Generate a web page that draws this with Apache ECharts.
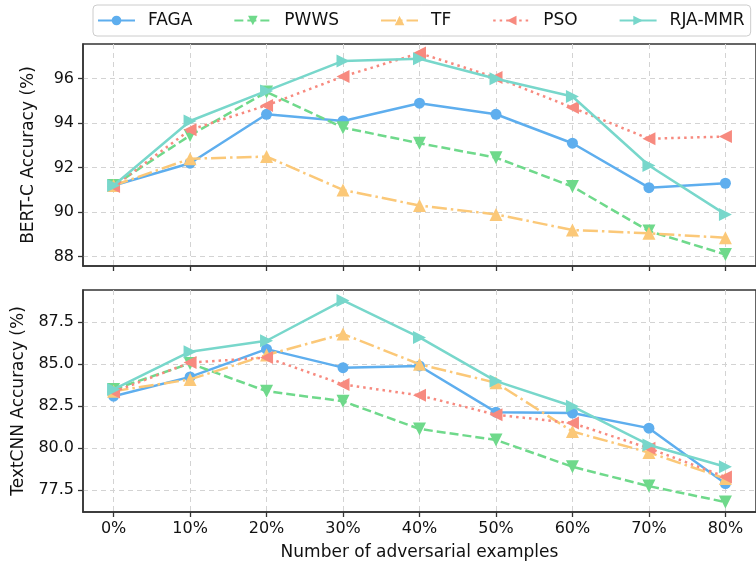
<!DOCTYPE html>
<html>
<head>
<meta charset="utf-8">
<script src="https://cdn.jsdelivr.net/npm/echarts@6/dist/echarts.min.js"></script>
<style>html,body{margin:0;padding:0;background:#fff}#c{width:756px;height:568px}</style>
</head>
<body>
<div id="c"></div>
<script>
const categories = ['0%','10%','20%','30%','40%','50%','60%','70%','80%'];
const seriesNames = ['FAGA','PWWS','TF','PSO','RJA-MMR'];

const bertFAGA = [91.2, 92.2, 94.4, 94.1, 94.9, 94.4, 93.1, 91.1, 91.3];
const bertPWWS = [91.2, 93.45, 95.4, 93.8, 93.1, 92.45, 91.15, 89.15, 88.1];
const bertTF   = [91.2, 92.4, 92.5, 91.0, 90.3, 89.9, 89.2, 89.05, 88.85];
const bertPSO  = [91.15, 93.7, 94.8, 96.1, 97.15, 96.05, 94.7, 93.3, 93.4];
const bertRJA  = [91.2, 94.1, 95.45, 96.8, 96.9, 96.0, 95.2, 92.1, 89.9];

const cnnFAGA = [83.1, 84.25, 85.9, 84.8, 84.9, 82.15, 82.1, 81.2, 77.9];
const cnnPWWS = [83.5, 85.05, 83.4, 82.8, 81.15, 80.5, 78.9, 77.75, 76.8];
const cnnTF   = [83.4, 84.1, 85.55, 86.8, 85.0, 83.9, 81.0, 79.75, 78.2];
const cnnPSO  = [83.35, 85.1, 85.4, 83.8, 83.15, 82.0, 81.5, 80.0, 78.3];
const cnnRJA  = [83.5, 85.75, 86.4, 88.8, 86.6, 84.0, 82.5, 80.2, 78.9];

const bertTicks = [88, 90, 92, 94, 96];
const cnnTicks = [77.5, 80.0, 82.5, 85.0, 87.5];

const colors = ['#5eaeee', '#6fd98b', '#fbc878', '#f78a7f', '#78d7cb'];
const lineTypes = ['solid', [9, 4], [15, 4, 2.5, 4], [2.5, 4], 'solid'];
const symbols = ['circle', 'triangle', 'triangle', 'triangle', 'triangle'];
const rotates = [0, 180, 0, 90, -90];
const sizes = [11, 13, 13, 13, 13];

const xIdx = categories.map((c, i) => i);
const font = 'DejaVu Sans';
const axisColor = '#333';

function mkX(gridIndex, showLabels) {
  return {
    type: 'value', gridIndex, min: -0.4, max: 8.4,
    axisLine: { show: true, onZero: false, lineStyle: { color: axisColor, width: 1.5 } },
    axisTick: { show: true, customValues: xIdx, length: 5, lineStyle: { color: axisColor, width: 1.3 } },
    axisLabel: { show: showLabels, customValues: xIdx, formatter: v => categories[Math.round(v)], fontFamily: font, fontSize: 16, color: '#111', margin: 9 },
    splitLine: { show: true, lineStyle: { color: '#d3d3d3', type: [5, 4], width: 1 } },
    name: showLabels ? 'Number of adversarial examples' : '',
    nameLocation: 'middle', nameGap: 32,
    nameTextStyle: { fontFamily: font, fontSize: 17, color: '#111' }
  };
}
function mkY(gridIndex, min, max, ticks, name, dec) {
  return {
    type: 'value', gridIndex, min, max,
    axisLine: { show: true, onZero: false, lineStyle: { color: axisColor, width: 1.5 } },
    axisTick: { show: true, customValues: ticks, length: 5, lineStyle: { color: axisColor, width: 1.3 } },
    axisLabel: { customValues: ticks, formatter: v => v.toFixed(dec), fontFamily: font, fontSize: 16, color: '#111', margin: 9 },
    splitLine: { show: true, lineStyle: { color: '#d3d3d3', type: [5, 4], width: 1 } },
    name, nameLocation: 'middle', nameGap: 46,
    nameTextStyle: { fontFamily: font, fontSize: 17, color: '#111' }
  };
}

const bertData = [bertFAGA, bertPWWS, bertTF, bertPSO, bertRJA];
const cnnData = [cnnFAGA, cnnPWWS, cnnTF, cnnPSO, cnnRJA];
const series = [];
[bertData, cnnData].forEach((set, g) => {
  set.forEach((vals, k) => {
    series.push({
      name: seriesNames[k], type: 'line', xAxisIndex: g, yAxisIndex: g,
      data: vals.map((v, i) => [xIdx[i], v]),
      symbol: symbols[k], symbolSize: sizes[k], symbolRotate: rotates[k],
      showAllSymbol: true, animation: false, z: 2 + k,
      lineStyle: { color: colors[k], width: 2.5, type: lineTypes[k] },
      itemStyle: { color: colors[k] }
    });
  });
});

const chart = echarts.init(document.getElementById('c'), null, { renderer: 'canvas' });
chart.setOption({
  animation: false,
  color: colors,
  grid: [
    { left: 83, right: -6.5, top: 44, height: 222, show: true, borderColor: axisColor, borderWidth: 1.5 },
    { left: 83, right: -6.5, top: 290, height: 222, show: true, borderColor: axisColor, borderWidth: 1.5 }
  ],
  legend: {
    data: seriesNames, left: 93, top: 5,
    itemWidth: 37, itemHeight: 12, itemGap: 41,
    padding: [7, 6, 7, 4],
    borderColor: '#cccccc', borderWidth: 1, borderRadius: 4,
    textStyle: { fontFamily: font, fontSize: 17, color: '#111', padding: [0, 0, 0, 8] }
  },
  xAxis: [mkX(0, false), mkX(1, true)],
  yAxis: [
    mkY(0, 87.58, 97.56, bertTicks, 'BERT-C Accuracy (%)', 0),
    mkY(1, 76.21, 89.42, cnnTicks, 'TextCNN Accuracy (%)', 1)
  ],
  series
});
</script>
</body>
</html>
